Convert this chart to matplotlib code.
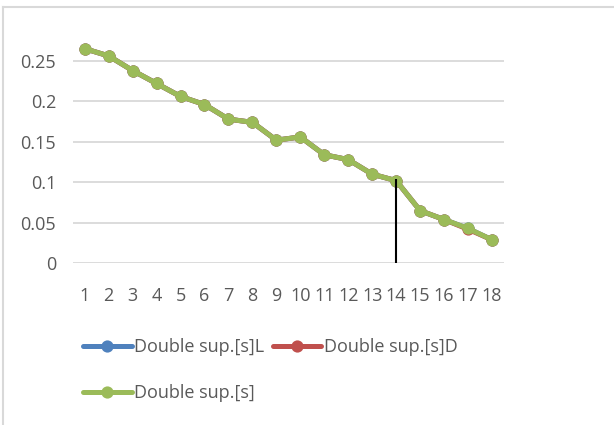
import matplotlib
matplotlib.use("Agg")
import matplotlib.pyplot as plt
from matplotlib.lines import Line2D

# Step index and double-support durations
steps = list(range(1, 19))
double_sup_L = [0.265, 0.256, 0.238, 0.222, 0.206, 0.196, 0.178, 0.174, 0.152, 0.156,
                0.134, 0.128, 0.110, 0.102, 0.065, 0.054, 0.043, 0.029]
double_sup_D = [0.265, 0.256, 0.238, 0.222, 0.206, 0.196, 0.178, 0.174, 0.152, 0.156,
                0.134, 0.128, 0.110, 0.102, 0.065, 0.054, 0.042, 0.029]
double_sup = [0.265, 0.256, 0.238, 0.222, 0.206, 0.196, 0.178, 0.174, 0.152, 0.156,
              0.134, 0.128, 0.110, 0.102, 0.065, 0.054, 0.043, 0.029]
series_names = ["Double sup.[s]L", "Double sup.[s]D", "Double sup.[s]"]
y_ticks = [0, 0.05, 0.1, 0.15, 0.2, 0.25]
y_tick_labels = ["0", "0.05", "0.1", "0.15", "0.2", "0.25"]
marker_step = 14
marker_top = 0.1035

colors = ["#4F81BD", "#C0504D", "#9BBB59"]
text_color = "#595959"
grid_color = "#D9D9D9"
font = ["Open Sans", "DejaVu Sans"]
fs = 13

plt.rcParams["font.family"] = font

fig = plt.figure(figsize=(6.14, 4.25), dpi=100)

# chart area frame (top and left edges)
fig.add_artist(Line2D([3 / 614, 3 / 614], [0, 1 - 7 / 425], color=grid_color, lw=1.5,
                      transform=fig.transFigure))
fig.add_artist(Line2D([3 / 614, 1], [1 - 7 / 425, 1 - 7 / 425], color=grid_color, lw=1.5,
                      transform=fig.transFigure))

ax = fig.add_axes([72.7 / 614, 161.7 / 425, (504 - 72.7) / 614, (388.5 - 161.7) / 425])
ax.set_xlim(0.5, 18.5)
ax.set_ylim(0, 0.28)

for v in y_ticks:
    ax.axhline(v, color=grid_color, lw=1.3, zorder=0)

ax.vlines(marker_step, 0, marker_top, color="black", lw=1.5, zorder=5)

for vals, c, name in zip([double_sup_L, double_sup_D, double_sup], colors, series_names):
    ax.plot(steps, vals, color=c, lw=3.6, marker="o", markersize=8.8,
            markeredgewidth=0, solid_capstyle="round", label=name, zorder=3)

for s in ax.spines.values():
    s.set_visible(False)
ax.set_yticks(y_ticks)
ax.set_yticklabels(y_tick_labels)
ax.set_xticks(steps)
ax.set_xticklabels([str(s) for s in steps])
ax.tick_params(axis="both", length=0, labelsize=fs, labelcolor=text_color)
ax.tick_params(axis="y", pad=12)
ax.tick_params(axis="x", pad=17)

# legend laid out row by row: L, D on the first row, the combined series below
handles, labels = ax.get_legend_handles_labels()
order = [0, 2, 1]
fig.legend([handles[i] for i in order], [labels[i] for i in order],
           loc="upper left", bbox_to_anchor=(83 / 614, 1 - 338 / 425),
           ncol=2, frameon=False, fontsize=fs, labelcolor=text_color,
           handlelength=2.7, handletextpad=0.15, columnspacing=0.45,
           labelspacing=1.55, borderpad=0, borderaxespad=0)

fig.savefig("out.png", dpi=100)
